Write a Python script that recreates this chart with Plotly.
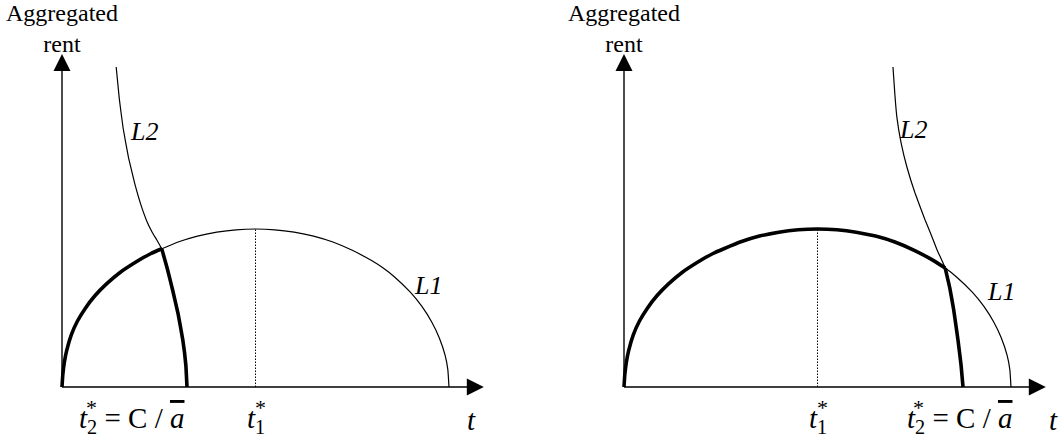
import plotly.graph_objects as go

FONT = "Liberation Serif, Times New Roman, DejaVu Serif, serif"
INK = "#000000"

# L1: aggregated rent hump, identical in both panels (t, rent)
l1_t = [0, 0.02, 0.06, 0.12, 0.24, 0.40, 0.60, 0.85, 1.15, 1.50, 1.92, 2.30, 2.58,
        3.00, 3.50, 4.00, 4.50, 5.00, 5.50, 6.00, 6.50, 7.00, 7.50, 8.00, 8.30,
        8.60, 9.00, 9.30, 9.55, 9.75, 9.90, 9.97, 10.0]
l1_rent = [0, 0.30, 0.62, 0.92, 1.32, 1.67, 1.99, 2.31, 2.61, 2.90, 3.17, 3.38, 3.50,
           3.67, 3.82, 3.92, 3.98, 4.00, 3.98, 3.92, 3.82, 3.67, 3.46, 3.20, 3.01,
           2.78, 2.40, 2.04, 1.65, 1.24, 0.80, 0.44, 0]

# L2 in the left panel (steep, crosses L1 before its peak)
l2_left_t = [1.40, 1.48, 1.58, 1.72, 1.88, 2.05, 2.20, 2.33, 2.45, 2.58,
             2.72, 2.86, 3.00, 3.12, 3.20, 3.23]
l2_left_rent = [8.10, 7.30, 6.55, 5.80, 5.15, 4.58, 4.18, 3.92, 3.72, 3.49,
                3.00, 2.45, 1.85, 1.20, 0.55, 0]

# L2 in the right panel (crosses L1 after its peak)
l2_right_t = [6.95, 7.00, 7.05, 7.16, 7.31, 7.52, 7.78, 7.91, 8.09, 8.30,
              8.42, 8.52, 8.63, 8.71, 8.76]
l2_right_rent = [8.10, 7.40, 6.84, 6.18, 5.57, 4.91, 4.23, 3.92, 3.47, 3.01,
                 2.50, 1.95, 1.19, 0.55, 0]

# crossing points of L1 and L2
cross_left_t = 2.58
cross_right_t = 8.30

t1_star = 5.0
rent_peak = 4.0
t_axis_end = 10.9
rent_axis_end = 8.43

PX_X = 38.7   # pixels per t unit
PX_Y = 39.5   # pixels per rent unit

fig = go.Figure()


def line(x, y, xa, ya, width, dash="solid"):
    fig.add_trace(go.Scatter(
        x=x, y=y, xaxis=xa, yaxis=ya, mode="lines",
        line=dict(color=INK, width=width, dash=dash, shape="spline", smoothing=0.3),
        hoverinfo="skip", showlegend=False,
    ))


def panel(xa, ya, l2_t, l2_r, cross_t):
    # axes with arrow heads
    line([0, 0], [0, rent_axis_end - 8 / PX_Y], xa, ya, 1.4)
    line([0, t_axis_end - 8 / PX_X], [0, 0], xa, ya, 1.4)
    fig.add_trace(go.Scatter(
        x=[0, t_axis_end], y=[rent_axis_end, 0], xaxis=xa, yaxis=ya, mode="markers",
        marker=dict(symbol=["arrow-up", "arrow-right"], size=17, color=INK, line=dict(width=0)),
        hoverinfo="skip", showlegend=False,
    ))
    # dotted drop line at t1*
    fig.add_trace(go.Scatter(
        x=[t1_star, t1_star], y=[0, rent_peak], xaxis=xa, yaxis=ya, mode="lines",
        line=dict(color=INK, width=1, dash="1.5px,1.5px"),
        hoverinfo="skip", showlegend=False,
    ))
    line(l1_t, l1_rent, xa, ya, 1.2)
    line(l2_t, l2_r, xa, ya, 1.2)
    # thick envelope: L1 up to the crossing, then L2 down to the axis
    a_t = [t for t in l1_t if t <= cross_t]
    a_r = l1_rent[:len(a_t)]
    line(a_t, a_r, xa, ya, 3.6)
    b_t = [t for t in l2_t if t >= cross_t]
    b_r = l2_r[len(l2_t) - len(b_t):]
    line(b_t, b_r, xa, ya, 3.6)


panel("x", "y", l2_left_t, l2_left_rent, cross_left_t)
panel("x2", "y2", l2_right_t, l2_right_rent, cross_right_t)


def note(text, x, y, xr, yr, size=29, xanchor="center", xshift=0, yshift=0):
    fig.add_annotation(
        text=text, x=x, y=y, xref=xr, yref=yr, showarrow=False,
        xanchor=xanchor, yanchor="middle", xshift=xshift, yshift=yshift,
        font=dict(family=FONT, size=size, color=INK),
    )


abar = '<span style="text-decoration:overline"><i>a</i></span>'
label_y = -0.84

for xr, yr, t2_left, t2_star, l2_lab, l1_lab, t_lab in [
    ("x", "y", 0.39, 0.75, (1.71, 6.46), (9.04, 2.58), 10.59),
    ("x2", "y2", 7.26, 7.60, (7.05, 6.51), (9.33, 2.41), 11.1),
]:
    note("Aggregated<br>rent", 0, 9.08, xr, yr, size=24)
    note("<i>L2</i>", l2_lab[0], l2_lab[1], xr, yr, size=26, xanchor="left")
    note("<i>L1</i>", l1_lab[0], l1_lab[1], xr, yr, size=26, xanchor="left")
    note("<i>t</i>", t_lab, label_y, xr, yr)
    note("<i>t</i><sub>1</sub>", t1_star, label_y, xr, yr)
    note("*", t1_star, label_y, xr, yr, xshift=5, yshift=13, size=22)
    note("<i>t</i><sub>2</sub> = C / " + abar, t2_left, label_y, xr, yr, xanchor="left")
    note("*", t2_star, label_y, xr, yr, yshift=13, size=22)

W, H = 1061, 444
fig.update_layout(
    width=W, height=H,
    margin=dict(l=0, r=0, t=0, b=0),
    paper_bgcolor="white", plot_bgcolor="white",
    font=dict(family=FONT, color=INK),
    xaxis=dict(domain=[0, 0.5], range=[-62 / PX_X, (W / 2 - 62) / PX_X], visible=False),
    xaxis2=dict(domain=[0.5, 1], range=[-93.5 / PX_X, (W / 2 - 93.5) / PX_X], visible=False),
    yaxis=dict(range=[-(H - 387) / PX_Y, 387 / PX_Y], visible=False),
    yaxis2=dict(anchor="x2", range=[-(H - 387) / PX_Y, 387 / PX_Y], visible=False),
)

fig.write_html("out.html", config={"displayModeBar": False},
               post_script="document.body.style.margin='0';")
